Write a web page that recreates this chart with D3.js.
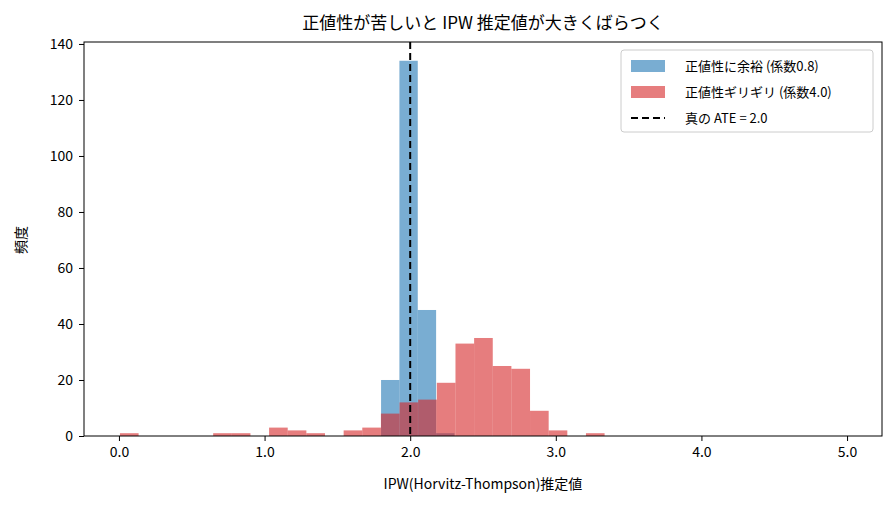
<!DOCTYPE html>
<html><head><meta charset="utf-8">
<script src="https://cdn.jsdelivr.net/npm/d3@7"></script>
<style>body{margin:0;background:#fff}text{font-family:"Noto Sans CJK JP",sans-serif}</style>
</head><body><svg id="c" width="894" height="506"></svg>
<script>
// histogram bins: start, width, counts
const blueStart = 1.80, blueWidth = 0.126;
const blueCounts = [20, 134, 45, 1];
const redStart = 0.007, redWidth = 0.128;
const redCounts = [1,0,0,0,0,1,1,0,3,2,1,0,2,3,8,12,13,19,33,35,25,24,9,2,0,1];
const xTicks = [0,1,2,3,4,5];
const yTicks = [0,20,40,60,80,100,120,140];
const trueATE = 2.0;

const svg = d3.select('#c');
const m = {l:84, r:882, t:42, b:436};
const x = d3.scaleLinear().domain([-0.24, 5.24]).range([m.l, m.r]);
const y = d3.scaleLinear().domain([0, 140.7]).range([m.b, m.t]);

function bars(start, w, counts, color) {
  svg.append('g').selectAll('rect').data(counts.map((c,i)=>({x0:start+i*w, c})).filter(d=>d.c>0))
    .join('rect').attr('x', d=>x(d.x0)).attr('width', d=>x(d.x0+w)-x(d.x0))
    .attr('y', d=>y(d.c)).attr('height', d=>y(0)-y(d.c))
    .attr('fill', color).attr('fill-opacity', 0.6);
}
bars(blueStart, blueWidth, blueCounts, '#1f77b4');
bars(redStart, redWidth, redCounts, '#d62728');

svg.append('line').attr('x1', x(trueATE)).attr('x2', x(trueATE)).attr('y1', m.t).attr('y2', m.b)
  .attr('stroke', '#000').attr('stroke-width', 2).attr('stroke-dasharray', '7,4');

const gx = svg.append('g').attr('transform', `translate(0,${m.b})`).call(d3.axisBottom(x).tickValues(xTicks).tickSize(5).tickPadding(6));
const gy = svg.append('g').attr('transform', `translate(${m.l},0)`).call(d3.axisLeft(y).tickValues(yTicks).tickSize(5).tickPadding(6));
[gx, gy].forEach(g => { g.selectAll('text').attr('font-size', 14).attr('fill', '#000').style('font-family','"Noto Sans CJK JP",sans-serif'); g.select('.domain').remove(); });
svg.append('rect').attr('x', m.l).attr('y', m.t).attr('width', m.r-m.l).attr('height', m.b-m.t)
  .attr('fill', 'none').attr('stroke', '#000').attr('stroke-width', 1);

svg.append('text').attr('x', (m.l+m.r)/2).attr('y', 29).attr('text-anchor', 'middle').attr('font-size', 17)
  .text('正値性が苦しいと IPW 推定値が大きくばらつく');
svg.append('text').attr('x', (m.l+m.r)/2).attr('y', 489).attr('text-anchor', 'middle').attr('font-size', 14)
  .text('IPW(Horvitz-Thompson)推定値');
svg.append('text').attr('transform', 'translate(26,240) rotate(-90)').attr('text-anchor', 'middle').attr('font-size', 14)
  .text('頻度');

const lg = svg.append('g').attr('transform', 'translate(621,50)');
lg.append('rect').attr('width', 252).attr('height', 82).attr('rx', 3).attr('fill', '#fff').attr('fill-opacity', 0.8).attr('stroke', '#ccc');
const items = [['正値性に余裕 (係数0.8)', '#1f77b4'], ['正値性ギリギリ (係数4.0)', '#d62728'], ['真の ATE = 2.0', null]];
items.forEach((d,i) => {
  const yy = 16 + i*26;
  if (d[1]) lg.append('rect').attr('x', 10).attr('y', yy-6).attr('width', 34).attr('height', 12).attr('fill', d[1]).attr('fill-opacity', 0.6);
  else lg.append('line').attr('x1', 10).attr('x2', 44).attr('y1', yy).attr('y2', yy).attr('stroke', '#000').attr('stroke-width', 2).attr('stroke-dasharray', '7,4');
  lg.append('text').attr('x', 64).attr('y', yy+5).attr('font-size', 13).text(d[0]);
});
</script></body></html>
